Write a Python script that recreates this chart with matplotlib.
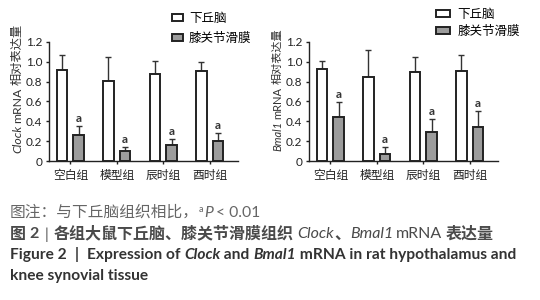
import numpy as np
import matplotlib.pyplot as plt
from matplotlib.patches import Patch

groups = ['空白组', '模型组', '辰时组', '酉时组']
legend_labels = ['下丘脑', '膝关节滑膜']

clock_hypo = [0.92, 0.81, 0.88, 0.91]
clock_hypo_err = [0.15, 0.24, 0.13, 0.09]
clock_syn = [0.26, 0.10, 0.16, 0.20]
clock_syn_err = [0.09, 0.04, 0.06, 0.08]

bmal_hypo = [0.93, 0.85, 0.90, 0.91]
bmal_hypo_err = [0.08, 0.27, 0.15, 0.16]
bmal_syn = [0.44, 0.07, 0.29, 0.34]
bmal_syn_err = [0.15, 0.07, 0.13, 0.16]

yticks = [0, 0.2, 0.4, 0.6, 0.8, 1.0, 1.2]
ytick_labels = ['0', '0.2', '0.4', '0.6', '0.8', '1.0', '1.2']

W, H = 540, 300
CJK = ['Noto Sans CJK SC']
LAT = ['Lato', 'Noto Sans CJK SC']
DARK = '#222222'
GRAY = '#9c9c9c'

fig = plt.figure(figsize=(W / 100, H / 100), dpi=100)
fig.patch.set_facecolor('white')


def px_axes(x0, y0, x1, y1):
    # pixel box (top-left origin) -> figure fraction
    return fig.add_axes([x0 / W, 1 - y1 / H, (x1 - x0) / W, (y1 - y0) / H])


def rich(x, y, pieces, rotation=0):
    # draw text pieces one after another, x/y in pixels from top-left
    r = fig.canvas.get_renderer()
    for s, kw in pieces:
        kw = dict(kw)
        gap = kw.pop('gap', 0)
        dy = kw.pop('dy', 0)
        if rotation == 0:
            t = fig.text(x / W, 1 - (y - dy) / H, s, ha='left', va='baseline', **kw)
            x += t.get_window_extent(r).width + gap
        else:
            t = fig.text((x - dy) / W, 1 - y / H, s, ha='left', va='baseline',
                         rotation=90, rotation_mode='anchor', **kw)
            y -= t.get_window_extent(r).height + gap


def panel(ax, hypo, hypo_err, syn, syn_err):
    x = np.arange(len(groups))
    w, off = 0.225, 0.18
    n = len(groups)
    ax.bar(x - off, hypo, w, color='white', edgecolor=DARK, linewidth=1.4, zorder=3)
    ax.bar(x + off, syn, w, color=GRAY, edgecolor=DARK, linewidth=1.4, zorder=3)
    ax.errorbar(x - off, hypo, yerr=[np.zeros(n), hypo_err], fmt='none', ecolor='#333333',
                elinewidth=1.0, capsize=2.5, capthick=1.0, zorder=2)
    ax.errorbar(x + off, syn, yerr=[np.zeros(n), syn_err], fmt='none', ecolor='#333333',
                elinewidth=1.0, capsize=2.5, capthick=1.0, zorder=2)
    for xi, v, e in zip(x, syn, syn_err):
        ax.text(xi + off, v + e + 0.045, 'a', ha='center', va='baseline',
                fontsize=8.5, family=LAT, weight='bold', color='#333333')
    ax.set_xlim(-0.47, 3.61)
    ax.set_ylim(0, 1.2)
    ax.spines['top'].set_visible(False)
    ax.spines['right'].set_visible(False)
    for s in ['left', 'bottom']:
        ax.spines[s].set_linewidth(1.0)
        ax.spines[s].set_color(DARK)
    ax.set_xticks(x)
    ax.set_xticklabels(groups, family=CJK, fontsize=8.5, color=DARK)
    ax.set_yticks(yticks)
    ax.set_yticklabels(ytick_labels, family=LAT, fontsize=8.5, color=DARK)
    ax.tick_params(axis='x', length=2.5, width=1.0, pad=3.5, color=DARK)
    ax.tick_params(axis='y', length=2.5, width=1.0, pad=2, color=DARK)
    ax.set_facecolor('none')


ax1 = px_axes(48.5, 42, 238, 161)
panel(ax1, clock_hypo, clock_hypo_err, clock_syn, clock_syn_err)
ax2 = px_axes(308.5, 42, 498, 161)
panel(ax2, bmal_hypo, bmal_hypo_err, bmal_syn, bmal_syn_err)

handles = [Patch(facecolor='white', edgecolor=DARK, linewidth=1.4),
           Patch(facecolor=GRAY, edgecolor=DARK, linewidth=1.4)]
fig.legend(handles, legend_labels, loc='upper left', bbox_to_anchor=(172 / W, 1 - 12 / H),
           frameon=False, prop={'family': CJK, 'size': 9}, handlelength=0.85,
           handleheight=0.4, handletextpad=0.5, labelspacing=0.55, borderpad=0,
           borderaxespad=0)
fig.legend(handles, legend_labels, loc='upper left', bbox_to_anchor=(436 / W, 1 - 8 / H),
           frameon=False, prop={'family': CJK, 'size': 9}, handlelength=1.1,
           handleheight=0.45, handletextpad=0.6, labelspacing=0.3, borderpad=0,
           borderaxespad=0)

# rotated y labels
lab = dict(fontsize=8.8, color='#333333')
rich(21, 153, [('Clock', dict(family=LAT, style='italic', gap=2, **lab)),
               ('mRNA', dict(family=LAT, gap=3, **lab)),
               ('相对表达量', dict(family=CJK, **lab))], rotation=90)
lab2 = dict(fontsize=8.0, color='#333333')
rich(281, 151, [('Bmal1', dict(family=LAT, style='italic', gap=2, **lab2)),
                ('mRNA', dict(family=LAT, gap=2.5, **lab2)),
                ('相对表达量', dict(family=CJK, **lab2))], rotation=90)

# caption
c1 = dict(fontsize=11.3, color='#666666')
rich(10, 217, [('图注：与下丘脑组织相比，', dict(family=CJK, **c1)),
               ('a', dict(family=LAT, fontsize=6.5, color='#666666', dy=5, gap=0.5)),
               ('P', dict(family=LAT, style='italic', gap=3, **c1)),
               ('< 0.01', dict(family=LAT, **c1))])
c2 = dict(fontsize=11.5, color='#4a4a4a', weight='bold')
rich(10, 238.5, [('图', dict(family=CJK, gap=3, **c2)),
                 ('2', dict(family=LAT, gap=6, **c2)),
                 ('|', dict(family=LAT, gap=6, fontsize=11, color='#4a4a4a')),
                 ('各组大鼠下丘脑、膝关节滑膜组织', dict(family=CJK, gap=3, **c2)),
                 ('Clock', dict(family=LAT, style='italic', fontsize=11.5, color='#4a4a4a')),
                 ('、', dict(family=CJK, **c2)),
                 ('Bmal1', dict(family=LAT, style='italic', fontsize=11.5, color='#4a4a4a', gap=3)),
                 ('mRNA', dict(family=LAT, fontsize=11.5, color='#4a4a4a', gap=3)),
                 ('表达量', dict(family=CJK, **c2))])
c3 = dict(fontsize=11.2, color='#333333', weight='bold', family=LAT)
rich(10, 259, [('Figure 2', dict(gap=8, **c3)),
               ('|', dict(gap=8, **c3)),
               ('Expression of ', c3),
               ('Clock', dict(style='italic', **c3)),
               (' and ', c3),
               ('Bmal1', dict(style='italic', **c3)),
               (' mRNA in rat hypothalamus and', c3)])
rich(10, 280, [('knee synovial tissue', c3)])

fig.savefig('out.png', dpi=100, facecolor='white')
